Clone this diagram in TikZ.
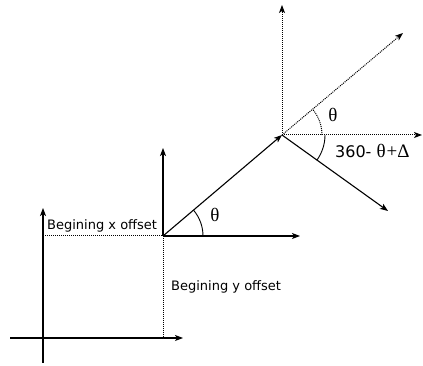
\documentclass[tikz,border=0pt]{standalone}
\usepackage{fontspec}
\setmainfont{DejaVu Sans}
\newfontfamily\thetafont{Liberation Serif}
\usetikzlibrary{arrows.meta}
\begin{document}
\begin{tikzpicture}[x=1pt,y=1pt,
  axis/.style={line width=1.1pt,-{Stealth[length=8pt,width=6pt,inset=2pt]}},
  dotaxis/.style={line width=1pt,dash pattern=on 1pt off 1pt,-{Stealth[length=8pt,width=6pt,inset=2pt]}},
  dotline/.style={line width=1pt,dash pattern=on 1pt off 1pt},
  lbl/.style={inner sep=0pt,font=\fontsize{13}{15}\selectfont},
  thlbl/.style={inner sep=0pt,font=\thetafont\fontsize{19}{21}\selectfont}]
\useasboundingbox (0,0) rectangle (423,366);
% first frame
\coordinate (A0) at (43,28);
\coordinate (Ay) at (43,158);
\coordinate (Ayb) at (43,3);
\coordinate (Ax) at (183,28);
\coordinate (Axl) at (10,28);
\draw[axis] (Ayb) -- (Ay);
\draw[axis] (Axl) -- (Ax);
% second frame
\coordinate (O2) at (163,130);
\coordinate (O2x) at (300,130);
\coordinate (O2y) at (163,218);
\coordinate (XoffL) at (45,130);
\coordinate (YoffB) at (163,28);
\draw[dotline] (XoffL) -- (O2);
\draw[dotline] (O2) -- (YoffB);
\draw[axis] (O2) -- (O2x);
\draw[axis] (O2) -- (O2y);
% third frame
\coordinate (O3) at (282,231);
\coordinate (O3y) at (282,361);
\coordinate (O3d) at (403,333);
\coordinate (O3x) at (422,231);
\coordinate (O3r) at (388,155);
\draw[axis] (O2) -- (O3);
\draw[dotaxis] (O3) -- (O3y);
\draw[dotaxis] (O3) -- (O3d);
\draw[dotaxis] (O3) -- (O3x);
\draw[axis] (O3) -- (O3r);
% arcs
\draw[line width=0.9pt] ([shift={(40,0)}]O2) arc[start angle=0,end angle=40,radius=40];
\draw[dotline] ([shift={(40,0)}]O3) arc[start angle=0,end angle=40,radius=40];
\draw[line width=0.9pt] ([shift={(43,0)}]O3) arc[start angle=0,end angle=-36,radius=43];
% labels
\node[lbl,anchor=base west] (xoff) at (47,136) {Begining x offset};
\node[lbl,anchor=base west] (yoff) at (171,75) {Begining y offset};
\node[thlbl] (th1) at (215,151) {θ};
\node[thlbl] (th2) at (333,251) {θ};
\node[inner sep=0pt,anchor=base west,font=\fontsize{16}{18}\selectfont] (ang) at (335,208) {360- {\thetafont\fontsize{19}{21}\selectfont θ\kern1pt+Δ}};
\end{tikzpicture}
\end{document}
